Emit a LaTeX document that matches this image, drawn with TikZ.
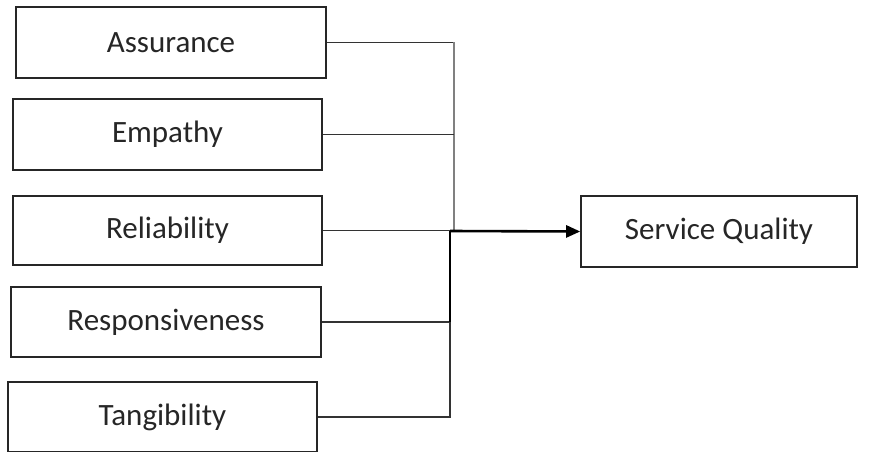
\documentclass[tikz,border=0pt]{standalone}
\usepackage{fontspec}
\setmainfont{Carlito}
\usetikzlibrary{arrows.meta}
\begin{document}
\begin{tikzpicture}[x=1pt,y=-1pt,
  box/.style={draw=black!85, line width=1.6pt, fill=white, inner sep=0pt, font=\fontsize{31}{36}\selectfont, text=black!85},
  conn/.style={draw=black!80, line width=1.9pt},
  conng/.style={draw=black!50, line width=2.4pt}]
\useasboundingbox (0,0) rectangle (880,452);
\node[box, minimum width=310, minimum height=71] (A) at (171,42.5) {Assurance};
\node[box, minimum width=309, minimum height=71] (E) at (167.5,134.5) {Empathy};
\node[box, minimum width=309, minimum height=69] (R) at (167.5,230.5) {Reliability};
\node[box, minimum width=310, minimum height=70] (P) at (166,322) {Responsiveness};
\node[box, minimum width=309, minimum height=70] (T) at (162.5,417) {Tangibility};
\node[box, minimum width=276, minimum height=71] (S) at (719,231.5) {Service Quality};
\coordinate (J) at (454,231);
\coordinate (K) at (450,231);
\draw[conn] (A.east) -| (J);
\draw[conng] (A.east -| J) -- (J);
\draw[conn] (E.east) -- (E.east -| J);
\draw[conn] (R.east) -- (R.east -| J);
\draw[conn] (T.east) -| (K);
\draw[conn] (P.east) -- (P.east -| K);
\draw[conn, draw=black, line width=2.6pt] (P.east -| K) -- (K);
\draw[conn, draw=black, line width=2.6pt, -{Triangle[length=14pt,width=12pt]}] (K) -- (S.west);
\end{tikzpicture}
\end{document}
